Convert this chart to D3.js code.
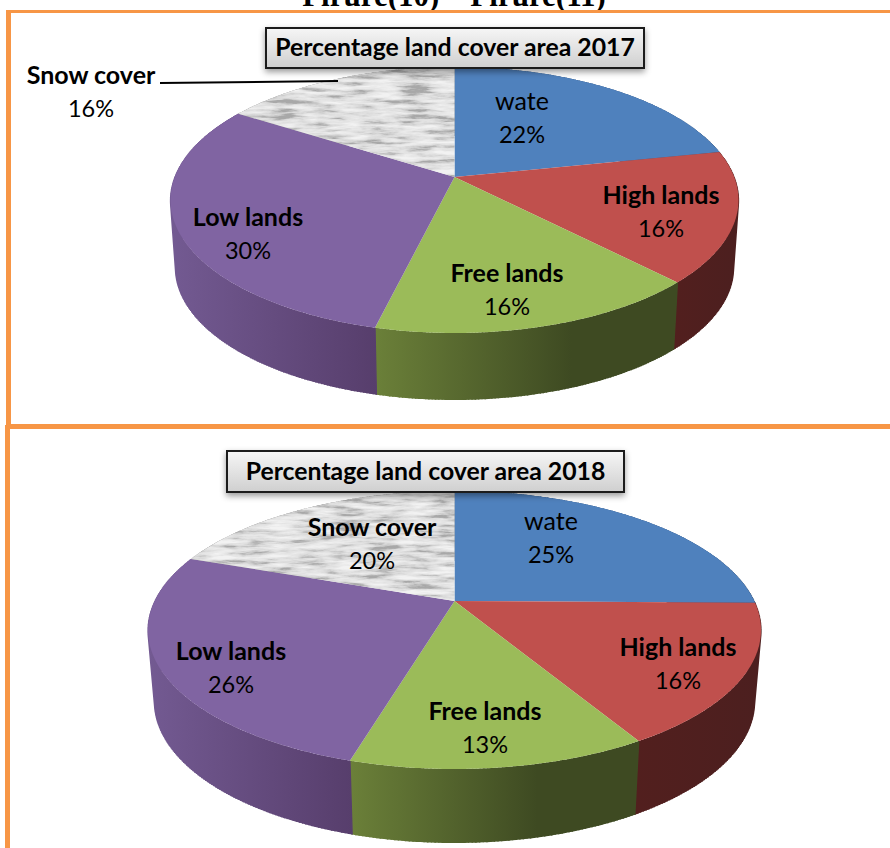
<!DOCTYPE html>
<html><head><meta charset="utf-8">
<script src="https://cdnjs.cloudflare.com/ajax/libs/d3/7.8.5/d3.min.js"></script>
<style>html,body{margin:0;padding:0;background:#fff;overflow:hidden}svg{display:block}
text{font-family:Lato,"Open Sans",sans-serif;fill:#000}</style></head>
<body><svg id="c" width="890" height="848"></svg>
<script>
const categories = ["wate","High lands","Free lands","Low lands","Snow cover"];
const values2017 = [21.8,15.9,16.1,30.2,16];
const values2018 = [25.2,16.4,12.9,26,19.5];
const titles = ["Percentage land cover area 2017","Percentage land cover area 2018"];
const header = "Firure(10)\u00a0\u00a0\u00a0\u00a0Firure(11)";
const topColors = ["#4f81bd","#c0504d","#9bbb59","#8064a2","#e3e3e3"];
const sideStops = [["#3a5f8e","#2c4a70"],["#521f1e","#4c1f1f"],["#6b8039","#3e4a22"],["#735a92","#573e6c"],["#aaa","#999"]];

const svg=d3.select("#c");
const defs=svg.append("defs");

svg.append("text").attr("x",454).attr("y",6).attr("text-anchor","middle")
  .style("font-family","'Liberation Serif',serif").style("font-weight","700").style("font-size","31px")
  .text(header);
const orange="#f79646";
[[6,10,884,3],[6,10,5,415],[6,424,884,5],[5,425,5,423]].forEach(r=>
  svg.append("rect").attr("x",r[0]).attr("y",r[1]).attr("width",r[2]).attr("height",r[3]).attr("fill",orange));

const f=defs.append("filter").attr("id","marble").attr("x",0).attr("y",0).attr("width",1).attr("height",1)
  .attr("color-interpolation-filters","sRGB");
f.append("feTurbulence").attr("type","fractalNoise").attr("baseFrequency","0.03 0.2").attr("numOctaves",5).attr("seed",11).attr("result","n");
f.append("feColorMatrix").attr("in","n").attr("type","matrix")
  .attr("values","2 0 0 0 -0.5  2 0 0 0 -0.5  2 0 0 0 -0.5  0 0 0 0 1");
const t=f.append("feComponentTransfer");
["R","G","B"].forEach(c=>t.append("feFunc"+c).attr("type","table").attr("tableValues","0.66 0.74 0.81 0.86 0.89 0.91 0.93 0.95"));
const sh=defs.append("filter").attr("id","shadow").attr("x","-5%").attr("y","-20%").attr("width","110%").attr("height","150%");
sh.append("feDropShadow").attr("dx",0).attr("dy",3).attr("stdDeviation",3).attr("flood-color","#000").attr("flood-opacity",0.4);
const tg=defs.append("linearGradient").attr("id","titleFill").attr("x1",0).attr("y1",0).attr("x2",0).attr("y2",1);
tg.append("stop").attr("offset",0).attr("stop-color","#f6f6f6");
tg.append("stop").attr("offset",1).attr("stop-color","#cfcfcf");

function drawPie(o){
  const g=svg.append("g");
  const b=(o.apexY-o.top.cy)/o.top.ry, k=Math.sqrt(1-b*b);
  const project=(a,e)=>{
    const X=Math.sin(a),Y=-Math.cos(a),d=1+b*Y;
    return [e.cx+e.rx*X*k/d, e.cy+e.ry*(Y+b)/d];
  };
  const arcs=d3.pie().sort(null).startAngle(0).endAngle(2*Math.PI)(o.values);
  const samples=a=>{const s=d3.range(a.startAngle,a.endAngle,0.01);s.push(a.endAngle);return s;};
  const line=d3.line();
  arcs.forEach((a,i)=>{
    const s=samples(a);
    const up=s.map(v=>project(v,o.top));
    const low=s.map(v=>project(v,o.bottom));
    const x=d3.extent(up.concat(low).filter(p=>p[1]>o.top.cy-5),p=>p[0]);
    const id="side"+o.id+"_"+i;
    const lg=defs.append("linearGradient").attr("id",id).attr("gradientUnits","userSpaceOnUse")
      .attr("x1",x[0]||0).attr("x2",(x[0]||0)+((x[1]-x[0])||1)*(i===2?0.65:1)).attr("y1",0).attr("y2",0);
    lg.append("stop").attr("offset",0).attr("stop-color",sideStops[i][0]);
    lg.append("stop").attr("offset",1).attr("stop-color",sideStops[i][1]);
    g.append("path").attr("d",line(up.concat(low.slice().reverse()))+"Z").attr("fill",`url(#${id})`);
    // the wall swept from rim to rim, so the outer silhouette stays straight at the extremes
    g.append("path").attr("d",s.map((v,j)=>line([up[j],low[j]])).join(""))
      .attr("fill","none").attr("stroke",`url(#${id})`).attr("stroke-width",1.4);
  });
  arcs.forEach((a,i)=>{
    const pts=[[o.top.cx,o.apexY]].concat(samples(a).map(v=>project(v,o.top)));
    const d=line(pts)+"Z";
    if(i===4){
      const id="snowClip"+o.id;
      defs.append("clipPath").attr("id",id).append("path").attr("d",d);
      g.append("g").attr("clip-path",`url(#${id})`).append("rect")
        .attr("x",o.top.cx-o.top.rx).attr("y",o.top.cy-o.top.ry)
        .attr("width",o.top.rx*2).attr("height",o.top.ry*2)
        .attr("fill","#e3e3e3").attr("filter","url(#marble)");
    } else g.append("path").attr("d",d).attr("fill",topColors[i]);
  });
  g.append("rect").attr("x",o.title.x).attr("y",o.title.y).attr("width",o.title.w).attr("height",o.title.h)
    .attr("fill","url(#titleFill)").attr("stroke","#1a1a1a").attr("stroke-width",2).attr("filter","url(#shadow)");
  g.append("text").attr("x",o.title.x+o.title.w/2).attr("y",o.title.y+o.title.h/2+8).attr("text-anchor","middle")
    .style("font-weight","700").style("font-size",o.title.size+"px").text(o.titleText);
  if(o.leader) g.append("path").attr("d",line(o.leader)).attr("fill","none").attr("stroke","#000").attr("stroke-width",2);
  categories.forEach((c,i)=>{
    const p=o.labels[i];
    g.append("text").attr("x",p[0]).attr("y",p[1]+8).attr("text-anchor","middle")
      .style("font-weight",i===0?"400":"700").style("font-size","25px").text(c);
    g.append("text").attr("x",p[0]).attr("y",p[1]+41).attr("text-anchor","middle")
      .style("font-size","23.5px").text(Math.round(o.values[i])+"%");
  });
}

drawPie({id:"a",values:values2017,apexY:177,titleText:titles[0],
  top:{cx:454.5,cy:200,rx:284,ry:133},bottom:{cx:454.5,cy:268,rx:279,ry:132},
  title:{x:266,y:28,w:378,h:40,size:24.8},
  leader:[[160,83],[338,81]],
  labels:[[522,102],[661,196],[507,274],[248,218],[91,76]]});
drawPie({id:"b",values:values2018,apexY:601,titleText:titles[1],
  top:{cx:454.5,cy:630,rx:306.5,ry:139},bottom:{cx:454.5,cy:702,rx:300,ry:141},
  title:{x:227,y:451,w:397,h:41,size:24.8},
  labels:[[551,522],[678,648],[485,712],[231,652],[372,528]]});
</script></body></html>
